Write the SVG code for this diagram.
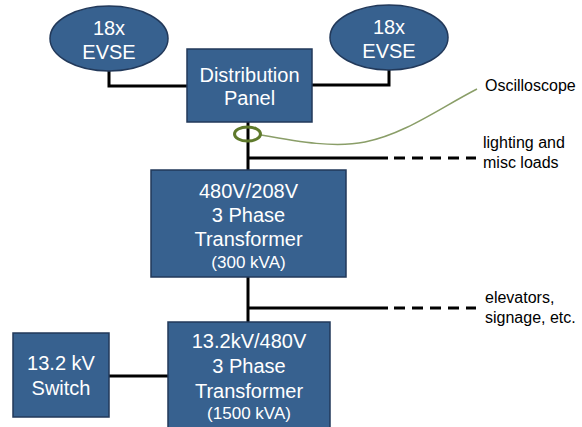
<svg xmlns="http://www.w3.org/2000/svg" width="582" height="427" viewBox="0 0 582 427">
<style>
.node{fill:#37618f;stroke:#22395a;stroke-width:1.5}
.t{fill:#fff;font-family:"Liberation Sans",Arial,sans-serif;font-size:20px;text-anchor:middle}
.s{font-size:17px}
.lbl{fill:#000;font-family:"Liberation Sans",Arial,sans-serif;font-size:16px}
.w{fill:none;stroke:#000;stroke-width:3}
.d{fill:none;stroke:#000;stroke-width:3;stroke-dasharray:11 7}
</style>
<rect width="582" height="427" fill="#fff"/>
<g id="connectors">
<polyline class="w" points="109,71 109,86 187,86"/>
<polyline class="w" points="389,70 389,85 312,85"/>
<line class="w" x1="248" y1="122" x2="248" y2="170"/>
<line class="w" x1="248" y1="158" x2="388" y2="158"/>
<line class="d" x1="394" y1="158" x2="476" y2="158"/>
<line class="w" x1="248" y1="277" x2="248" y2="322"/>
<line class="w" x1="248" y1="308" x2="388" y2="308"/>
<line class="d" x1="394" y1="308" x2="476" y2="308"/>
<line class="w" x1="109" y1="376" x2="168" y2="376"/>
<path d="M261,135 C300,142 335,148 365,142 C405,134 440,108 477,89" fill="none" stroke="#8a9e68" stroke-width="1.5"/>
</g>
<g id="evse-left">
<ellipse class="node" cx="109" cy="38.5" rx="59" ry="32.5"/>
<text class="t" x="109" y="35">18x</text>
<text class="t" x="109" y="59">EVSE</text>
</g>
<g id="evse-right">
<ellipse class="node" cx="389" cy="37.5" rx="59" ry="32.5"/>
<text class="t" x="389" y="34">18x</text>
<text class="t" x="389" y="58">EVSE</text>
</g>
<g id="panel">
<rect class="node" x="187" y="49" width="125" height="73"/>
<text class="t" x="249.5" y="82">Distribution</text>
<text class="t" x="249.5" y="105">Panel</text>
</g>
<g id="probe">
<ellipse cx="247.5" cy="134" rx="13" ry="7" fill="none" stroke="#5f7a2c" stroke-width="3"/>
</g>
<g id="oscilloscope">
<text class="lbl" x="485" y="91">Oscilloscope</text>
</g>
<g id="lighting">
<text class="lbl" x="483" y="148">lighting and</text>
<text class="lbl" x="483" y="168">misc loads</text>
</g>
<g id="transformer-300">
<rect class="node" x="151" y="170" width="195" height="107"/>
<text class="t" x="248.5" y="198">480V/208V</text>
<text class="t" x="248.5" y="222">3 Phase</text>
<text class="t" x="248.5" y="246">Transformer</text>
<text class="t s" x="248.5" y="268">(300 kVA)</text>
</g>
<g id="elevators">
<text class="lbl" x="485" y="303">elevators,</text>
<text class="lbl" x="485" y="323">signage, etc.</text>
</g>
<g id="transformer-1500">
<rect class="node" x="168" y="322" width="162" height="110"/>
<text class="t" x="249" y="348">13.2kV/480V</text>
<text class="t" x="249" y="373">3 Phase</text>
<text class="t" x="249" y="398">Transformer</text>
<text class="t s" x="249" y="419">(1500 kVA)</text>
</g>
<g id="switch">
<rect class="node" x="13" y="333" width="96" height="84"/>
<text class="t" x="61" y="370">13.2 kV</text>
<text class="t" x="61" y="395">Switch</text>
</g>
</svg>
